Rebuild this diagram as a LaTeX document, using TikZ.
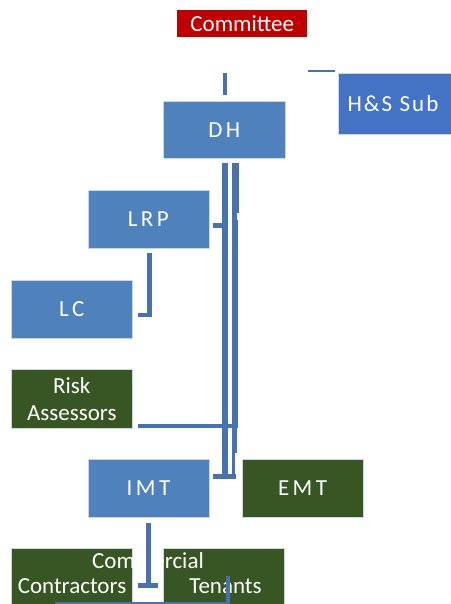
\documentclass[tikz,border=0pt]{standalone}
\usepackage{fontspec}
\setmainfont{Carlito}
\newfontfamily\spaced[LetterSpace=15]{Carlito}
\newfontfamily\hsfont[LetterSpace=9]{Carlito}
\usetikzlibrary{calc}
\definecolor{bluebox}{HTML}{4F81BD}
\definecolor{hsblue}{HTML}{4472C4}
\definecolor{greenbox}{HTML}{375623}
\definecolor{redbox}{HTML}{C00000}
\definecolor{connblue}{HTML}{4672B0}
\definecolor{edgecol}{HTML}{C9D6EA}
\begin{document}
\begin{tikzpicture}[x=1pt,y=-1pt,
  box/.style={draw=edgecol, line width=0.6pt, minimum width=121pt, minimum height=58pt,
    inner sep=0pt, anchor=north west, text=white, align=center,
    font=\fontsize{23}{27}\selectfont},
  bbox/.style={box, fill=bluebox, font=\spaced\fontsize{23}{27}\selectfont},
  gbox/.style={box, fill=greenbox},
  txt/.style={text=white, inner sep=0pt, anchor=base, font=\fontsize{23}{27}\selectfont},
  conn/.style={draw=connblue, line width=5pt}]
\useasboundingbox (0,0) rectangle (450,604);
% boxes
\node[box, fill=redbox, draw=none, minimum width=130pt, minimum height=27pt] (com) at (177,10) {Committee};
\node[box, fill=hsblue, minimum width=124pt, minimum height=61pt] (hs) at (338,72.7) {};
\node[txt, font=\hsfont\fontsize{23}{27}\selectfont] (hstext) at (393,112) {H\&S Sub};
\node[bbox, minimum width=122pt, minimum height=57.5pt] (dh) at (163,100.7) {DH};
\node[bbox] (lrp) at (87.5,190) {LRP};
\node[bbox] (lc) at (11,280) {LC};
\node[gbox, minimum height=59pt] (risk) at (11,369.3) {Risk\\Assessors};
\node[bbox] (imt) at (87.7,459.3) {IMT};
\node[gbox, font=\spaced\fontsize{23}{27}\selectfont] (emt) at (241.7,459.3) {EMT};
\node[gbox] (cc) at (11,548) {};
\node[gbox] (ten) at (163.3,548) {};
\node[txt] (cctext) at (72,593) {Contractors};
\node[txt] (tentext) at (225.5,593) {Tenants};
\node[txt] (commtext) at (148,568) {Commercial};
% named connector points
\coordinate (comA) at (225,73);   \coordinate (comB) at (225,95);
\coordinate (hsA) at (308,71.2);  \coordinate (hsB) at (335,71.2);
\coordinate (lvTop) at (225.3,163); \coordinate (lvBot) at (225.3,479);
\coordinate (rvTop) at (234.2,163); \coordinate (rvMid) at (234.2,453);
\coordinate (thA) at (237.9,163); \coordinate (thB) at (237.9,213);
\coordinate (wA) at (235,220);    \coordinate (wB) at (235,428);
\coordinate (nvA) at (233.4,453); \coordinate (nvB) at (233.4,476);
\coordinate (imtJ) at (213,476.5); \coordinate (imtJe) at (236,476.5);
\coordinate (riskA) at (138,426); \coordinate (riskB) at (238.3,426);
\coordinate (lrpA) at (213,225.5); \coordinate (lrpB) at (223,225.5);
\coordinate (lcA) at (149.5,253); \coordinate (lcB) at (149.5,315); \coordinate (lcC) at (138,315);
\coordinate (ccA) at (148.5,523); \coordinate (ccB) at (148.5,585);
\coordinate (ccL) at (138,585);   \coordinate (ccR) at (158,585);
\coordinate (botA) at (55,604);   \coordinate (botB) at (230,604);
\coordinate (tvA) at (228,576);   \coordinate (tvB) at (228,606);
% connectors
\draw[conn, line width=4.6pt] (comA) -- (comB);
\draw[conn, line width=2.5pt] (hsA) -- (hsB);
\draw[conn, line width=6pt] (lvTop) -- (lvBot);
\draw[conn] (rvTop) -- (rvMid);
\draw[conn, line width=1.7pt] (thA) -- (thB);
\draw[conn, line width=6.6pt] (wA) -- (wB);
\draw[conn, line width=3.4pt] (nvA) -- (nvB);
\draw[conn] (imtJ) -- (imtJe);
\draw[conn, line width=4.3pt] (riskA) -- (riskB);
\draw[conn] (lrpA) -- (lrpB);
\draw[conn, line width=4.5pt] (lcA) -- (lcB) -- (lcC);
\draw[conn, line width=5.5pt] (ccA) -- (ccB);
\draw[conn] (ccL) -- (ccR);
\draw[conn, line width=4pt] (botA) -- (botB);
\draw[conn, line width=4pt] (tvA) -- (tvB);
\end{tikzpicture}
\end{document}
